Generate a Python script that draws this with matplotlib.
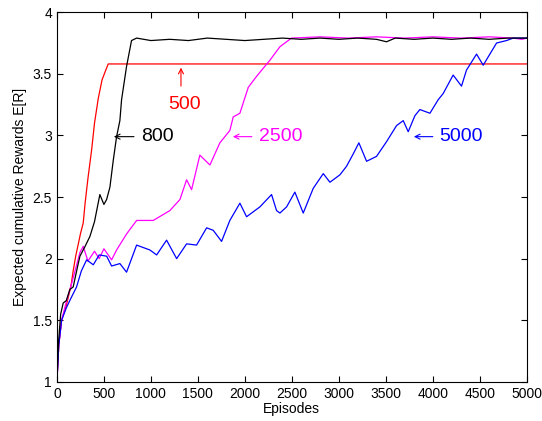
import matplotlib
matplotlib.use("Agg")
import matplotlib.pyplot as plt

plt.rcParams['font.family'] = ['Liberation Sans', 'DejaVu Sans']

# values (episodes, expected cumulative reward)
red_x = [0, 20, 50, 100, 150, 173, 200, 250, 280, 300, 330, 369, 400, 440, 480, 520, 546, 5000]
red_y = [1.0, 1.3, 1.5, 1.62, 1.78, 1.9, 2.02, 2.2, 2.29, 2.45, 2.65, 2.88, 3.1, 3.3, 3.45, 3.53, 3.58, 3.58]

black_x = [0, 15, 40, 67, 100, 138, 173, 227, 245, 300, 351, 400, 457, 500, 529, 564, 600, 635,
           670, 688, 741, 794, 848, 1000, 1200, 1400, 1600, 1800, 2000, 2200, 2400, 2600, 2800,
           3000, 3200, 3400, 3507, 3600, 3800, 4000, 4200, 4400, 4600, 4800, 5000]
black_y = [1.0, 1.3, 1.55, 1.64, 1.66, 1.75, 1.77, 1.96, 2.02, 2.1, 2.18, 2.3, 2.52, 2.44, 2.48, 2.58, 2.8, 2.99,
           3.12, 3.29, 3.56, 3.77, 3.79, 3.77, 3.78, 3.77, 3.79, 3.78, 3.77, 3.78, 3.79, 3.78, 3.79,
           3.78, 3.79, 3.78, 3.76, 3.79, 3.78, 3.79, 3.78, 3.79, 3.78, 3.79, 3.79]

magenta_x = [0, 20, 50, 100, 150, 200, 245, 280, 330, 400, 450, 500, 582, 635, 741, 848, 1025,
             1202, 1309, 1380, 1433, 1521, 1628, 1734, 1840, 1876, 1947, 2036, 2125, 2266, 2373,
             2461, 2497, 2800, 3100, 3400, 3700, 4000, 4300, 4600, 4850, 4950, 5000]
magenta_y = [1.0, 1.3, 1.5, 1.65, 1.78, 1.92, 2.05, 2.1, 1.98, 2.06, 2.0, 2.08, 1.99, 2.07, 2.2, 2.31, 2.31,
             2.39, 2.48, 2.64, 2.56, 2.84, 2.76, 2.94, 3.04, 3.15, 3.18, 3.39, 3.48, 3.61, 3.72,
             3.77, 3.79, 3.8, 3.79, 3.8, 3.79, 3.8, 3.79, 3.8, 3.79, 3.78, 3.79]

blue_x = [0, 20, 50, 100, 150, 209, 260, 316, 387, 450, 529, 582, 670, 741, 848, 990, 1061,
          1167, 1274, 1380, 1486, 1593, 1663, 1752, 1840, 1947, 2018, 2160, 2284, 2337, 2373,
          2444, 2532, 2621, 2727, 2834, 2905, 3011, 3082, 3153, 3213, 3295, 3401, 3508, 3614,
          3685, 3738, 3809, 3862, 3969, 4057, 4110, 4216, 4305, 4358, 4465, 4536, 4607, 4678,
          4784, 4855, 5000]
blue_y = [1.0, 1.3, 1.5, 1.6, 1.68, 1.77, 1.9, 1.99, 1.95, 2.03, 2.02, 1.94, 1.96, 1.89, 2.11, 2.07, 2.03,
          2.15, 2.0, 2.12, 2.11, 2.25, 2.23, 2.14, 2.31, 2.45, 2.34, 2.42, 2.52, 2.39, 2.37,
          2.42, 2.54, 2.37, 2.57, 2.69, 2.62, 2.68, 2.75, 2.85, 2.94, 2.79, 2.83, 2.95, 3.08,
          3.12, 3.03, 3.16, 3.21, 3.18, 3.29, 3.34, 3.49, 3.4, 3.53, 3.66, 3.57, 3.66, 3.75,
          3.77, 3.79, 3.79]

# labels: (text, colour, arrow tip, arrow tail, text position)
labels = [
    ('800', 'black', (606, 2.99), (820, 2.99), (900, 2.99)),
    ('2500', 'magenta', (1872, 2.99), (2074, 2.99), (2155, 2.99)),
    ('5000', 'blue', (3798, 2.99), (4000, 2.99), (4070, 2.99)),
]

fig = plt.figure(figsize=(5.42, 4.21), dpi=100)
ax = fig.add_axes([0.105, 0.093, 0.867, 0.878])

ax.plot(red_x, red_y, color='red', lw=0.9)
ax.plot(magenta_x, magenta_y, color='magenta', lw=0.9)
ax.plot(blue_x, blue_y, color='blue', lw=0.9)
ax.plot(black_x, black_y, color='black', lw=0.9)

arrow_kw = dict(arrowstyle='->', lw=0.8, shrinkA=0, shrinkB=0, mutation_scale=9)
for txt, col, tip, tail, pos in labels:
    ax.annotate('', xy=tip, xytext=tail, arrowprops=dict(color=col, **arrow_kw))
    ax.text(pos[0], pos[1], txt, color=col, fontsize=14, ha='left', va='center')

# the 500 label points upward
ax.annotate('', xy=(1320, 3.55), xytext=(1320, 3.40), arrowprops=dict(color='red', **arrow_kw))
ax.text(1360, 3.25, '500', color='red', fontsize=14, ha='center', va='center')

ax.set_xlim(0, 5000)
ax.set_ylim(1, 4)
ax.set_xticks(range(0, 5001, 500))
ax.set_yticks([1, 1.5, 2, 2.5, 3, 3.5, 4])
ax.set_yticklabels(['1', '1.5', '2', '2.5', '3', '3.5', '4'])
ax.tick_params(direction='in', top=True, right=True, labelsize=10, length=4)
ax.set_xlabel('Episodes', fontsize=10, labelpad=1)
ax.set_ylabel('Expected cumulative Rewards E[R]', fontsize=10, labelpad=4)

fig.savefig('out.png', dpi=100)
